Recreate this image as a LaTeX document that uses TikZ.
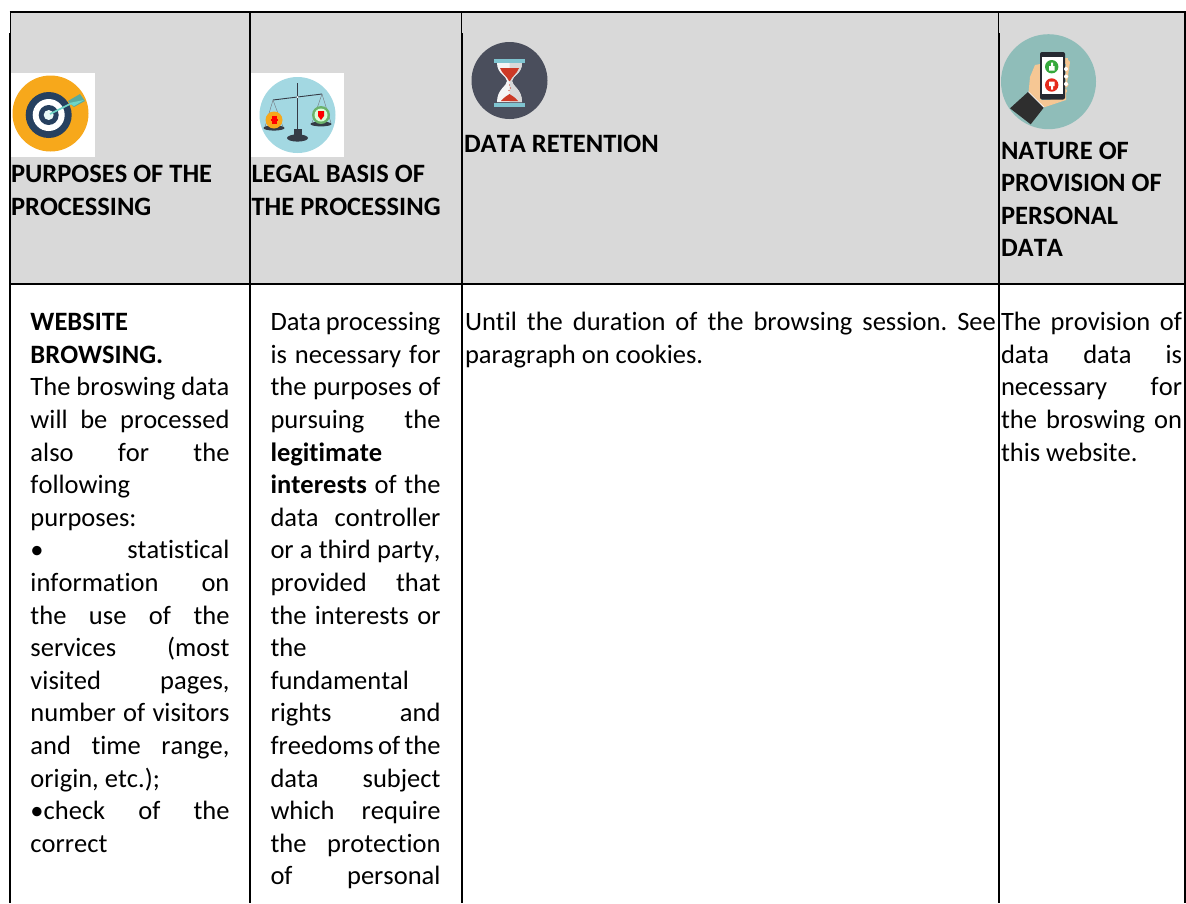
\documentclass[tikz,border=0pt]{standalone}
\usepackage{fontspec}
\setmainfont[Ligatures=NoCommon,Kerning=Off]{Carlito}
\frenchspacing
\newcommand{\J}[1]{\makebox[\linewidth][s]{#1}\par}
\newcommand{\Lf}[1]{\mbox{#1}\par}
\newcommand{\cellfont}{\fontsize{26.5}{32.6}\selectfont}
\newenvironment{celltext}[1]{\begin{minipage}[t]{#1}\cellfont\frenchspacing\setlength{\parindent}{0pt}\setlength{\parskip}{0pt}}{\end{minipage}}
\definecolor{headgray}{HTML}{D9D9D9}
\definecolor{tgorange}{HTML}{F7A81B}
\definecolor{tgnavy}{HTML}{26405F}
\definecolor{tgteal}{HTML}{6FD6C6}
\definecolor{scblue}{HTML}{A3D8E2}
\definecolor{scdark}{HTML}{353B46}
\definecolor{hgdark}{HTML}{4A4E5C}
\definecolor{hgbar}{HTML}{7FC4D0}
\definecolor{hgred}{HTML}{CC3A26}
\definecolor{phteal}{HTML}{8FBDB9}
\definecolor{skin}{HTML}{F6C794}
\definecolor{sleeve}{HTML}{2E2E2E}
\definecolor{thumbgreen}{HTML}{35A83C}
\definecolor{thumbred}{HTML}{E52A1C}
\tikzset{
  celllabel/.style={anchor=base west,inner sep=0pt,outer sep=0pt},
  rulethin/.style={line width=1pt,black},
  rulethick/.style={line width=1.8pt,black},
}
\begin{document}
\begin{tikzpicture}[x=1pt,y=-1pt]
\useasboundingbox[fill=white] (0,0) rectangle (1186,903);
% header fill
\fill[headgray] (10,12) rectangle (1185,284);
% icon backgrounds
\fill[white] (10,73) rectangle (95,157);
\fill[white] (251,73) rectangle (344,157);
% target icon
\fill[tgorange] (50.5,113.5) circle (38);
\fill[tgnavy] (48.7,115) circle (23);
\fill[white] (48.7,115) circle (16);
\fill[tgnavy] (48.7,115) circle (10);
\fill[white!85!tgteal] (48.7,115) circle (5);
\draw[tgteal,line width=1.6pt] (50,114) -- (74,102);
\fill[tgteal!80!black] (68,101) -- (80,94) -- (85,101) -- (74,107) -- cycle;
\fill[tgteal] (69,103) -- (84,100) -- (74,106) -- cycle;
% scales icon
\fill[scblue] (297.5,115) circle (38);
\draw[scdark,line width=1.1pt] (297.5,83) -- (297.5,132);
\draw[scdark,line width=.9pt] (273,100) -- (322,94);
\fill[white] (297.5,97) circle (1);
\draw[scdark!70,line width=.4pt] (273,100) -- (265,127) (273,100) -- (283,127);
\draw[scdark!70,line width=.4pt] (322,94) -- (312,123) (322,94) -- (331,123);
\fill[scdark] (274,128) ellipse (10.5 and 2.6);
\fill[scdark] (321,124) ellipse (10.5 and 2.4);
\fill[tgorange] (274,120) circle (8.5);
\fill[red] (272,116) rectangle (277,124);
\fill[red] (271,119) rectangle (278,121);
\fill[white!60!green!70!black] (321,115) circle (9);
\fill[white!85!green] (321,115) circle (6.5);
\fill[red] (318,111) -- (324,111) -- (324,116) -- (321,120) -- (318,116) -- cycle;
\fill[scdark] (294,129) rectangle (302,136);
\fill[scdark] (297.5,138) ellipse (10.5 and 3.6);
% hourglass icon
\fill[hgdark] (509.5,80.5) ellipse (38 and 38.5);
\fill[white!96!black] (497,63) .. controls (497,74) and (507,76) .. (507,81)
  .. controls (507,86) and (497,89) .. (497,102) -- (522,102)
  .. controls (522,89) and (512,86) .. (512,81)
  .. controls (512,76) and (522,74) .. (522,63) -- cycle;
\fill[white!85!black] (509.5,63) -- (522,63) .. controls (522,74) and (512,76) .. (512,81)
  .. controls (512,86) and (522,89) .. (522,102) -- (509.5,102) -- cycle;
\fill[hgred] (500,68) -- (519,68) .. controls (517,74) and (512,76) .. (510,81)
  -- (509,81) .. controls (507,76) and (502,74) .. (500,68) -- cycle;
\fill[hgred] (501,101) .. controls (504,97) and (507,96) .. (509.5,94)
  .. controls (512,96) and (515,97) .. (518,101) -- cycle;
\fill[hgred] (509.5,85) circle (.7) (510.5,88) circle (.7) (509,90.5) circle (.7);
\fill[hgbar] (493.5,59) rectangle (525,63);
\fill[hgbar] (493.5,102.5) rectangle (525,106.5);
% phone icon
\fill[phteal] (1048.5,81.7) circle (47.5);
\fill[skin] (1028.5,93) -- (1030,77) -- (1035,65) -- (1040,64) -- (1041,100) -- (1050,100) -- (1066,90) -- (1070,62) -- (1066,58) -- (1066,100) -- (1045,107) -- (1043,107) -- cycle;
\fill[skin] (1062,58) rectangle (1068,64);
\fill[skin] (1062,66) .. controls (1072,66) and (1072,72) .. (1062,72) -- cycle;
\fill[skin] (1062,73) .. controls (1071,73) and (1071,80) .. (1062,80) -- cycle;
\fill[skin] (1062,81) .. controls (1071,81) and (1071,88) .. (1062,88) -- cycle;
\fill[skin] (1062,88) .. controls (1069,88) and (1069,94) .. (1062,94) -- cycle;
\fill[scdark!70!black,rounded corners=2pt] (1040,52) rectangle (1065,99.5);
\fill[white] (1041.7,56.5) rectangle (1063.3,93.5);
\fill[thumbgreen] (1051.7,66.7) circle (6.7);
\fill[thumbred] (1051.7,85) circle (6.7);
\fill[white] (1049,66) rectangle (1054.5,70.5) (1051,62.5) rectangle (1053,66);
\fill[white] (1049,81.5) rectangle (1054.5,86) (1051,86) rectangle (1053,89.5);
\fill[white] (1066,69) circle (2) (1066,76.5) circle (2) (1066,84) circle (2);
\fill[sleeve] (1010,108.3) -- (1028.3,91.7) -- (1044,107.3) -- (1030.7,124.3) -- cycle;
\draw[white,line width=.8pt] (1028.3,91.7) -- (1044,107.3);
% rules
\draw[rulethick] (9.5,12) -- (1185.5,12);
\draw[rulethick] (9.5,284) -- (1185.5,284);
\draw[rulethin] (10.2,12) -- (10.2,33);
\draw[rulethick] (10.2,33) -- (10.2,903);
\draw[rulethick] (250,12) -- (250,903);
\draw[rulethin] (461.5,12) -- (461.5,33);
\draw[rulethick] (462,33) -- (462,903);
\draw[rulethin] (998.7,12) -- (998.7,33);
\draw[rulethick] (999,33) -- (999,903);
\draw[rulethick] (1185,12) -- (1185,903);
% header text
\node[celllabel] (h1) at (11,182.4) {\begin{celltext}{235pt}\bfseries\Lf{PURPOSES OF THE}\Lf{PROCESSING}\end{celltext}};
\node[celllabel] (h2) at (251.5,182.4) {\begin{celltext}{205pt}\bfseries\Lf{LEGAL BASIS OF}\Lf{THE PROCESSING}\end{celltext}};
\node[celllabel] (h3) at (464,152.4) {\begin{celltext}{500pt}\bfseries\Lf{DATA RETENTION}\end{celltext}};
\node[celllabel] (h4) at (1001,159) {\begin{celltext}{180pt}\bfseries\Lf{NATURE OF}\Lf{PROVISION OF}\Lf{PERSONAL}\Lf{DATA}\end{celltext}};
% body text
\node[celllabel] (b1) at (30.5,330.7) {\begin{celltext}{199pt}
\Lf{\textbf{WEBSITE}}
\Lf{\textbf{BROWSING.}}
\J{The broswing data}
\J{will be processed}
\J{also for the}
\Lf{following}
\Lf{purposes:}
\J{• statistical}
\J{information on}
\J{the use of the}
\J{services (most}
\J{visited pages,}
\J{number of visitors}
\J{and time range,}
\Lf{origin, etc.);}
\J{•check of the}
\Lf{correct}
\end{celltext}};
\node[celllabel] (b2) at (270.5,330.7) {\begin{celltext}{170pt}
\J{Data processing}
\J{is necessary for}
\J{the purposes of}
\J{pursuing the}
\Lf{\textbf{legitimate}}
\J{\textbf{interests} of the}
\J{data controller}
\J{or a third party,}
\J{provided that}
\J{the interests or}
\Lf{the}
\Lf{fundamental}
\J{rights and}
\J{freedoms of the}
\J{data subject}
\J{which require}
\J{the protection}
\J{of personal}
\end{celltext}};
\node[celllabel] (b3) at (465,330.7) {\begin{celltext}{531pt}
\J{Until the duration of the browsing session. See}
\Lf{paragraph on cookies.}
\end{celltext}};
\node[celllabel] (b4) at (1001,330.7) {\begin{celltext}{181pt}
\J{The provision of}
\J{data data is}
\J{necessary for}
\J{the broswing on}
\Lf{this website.}
\end{celltext}};
\end{tikzpicture}
\end{document}
